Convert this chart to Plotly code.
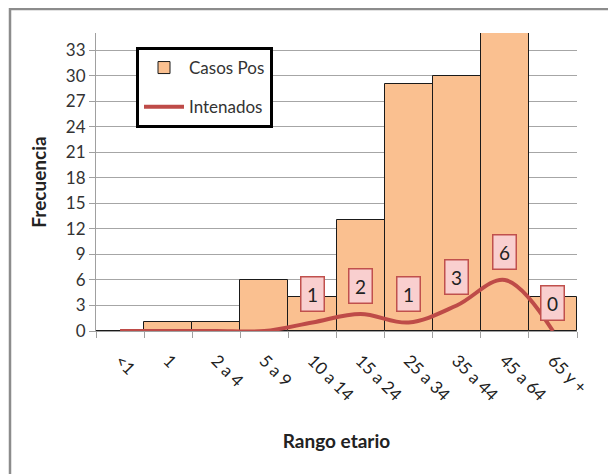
import plotly.graph_objects as go

categories = ["<1", "1", "2 a 4", "5 a 9", "10 a 14", "15 a 24", "25 a 34", "35 a 44", "45 a 64", "65 y +"]
casos_pos = [0, 1, 1, 6, 4, 13, 29, 30, 35, 4]
internados = [0, 0, 0, 0, 1, 2, 1, 3, 6, 0]
label_from = 4  # data labels shown from "10 a 14" onward
y_ticks = [0, 3, 6, 9, 12, 15, 18, 21, 24, 27, 30, 33]

FONT = "Lato"
OFF = 8  # page body offset
W, H = 616, 474
ML, MT = 96 - OFF, 33 - OFF
MR = W - (577 - OFF)
MB = H - (331 - OFF)
pw = W - ML - MR
ph = H - MT - MB

def px_x(x):
    return (x - OFF - ML) / pw

def px_y(y):
    return (H - MB - (y - OFF)) / ph

fig = go.Figure()
fig.add_trace(go.Bar(
    x=categories, y=casos_pos, name="Casos Pos",
    marker=dict(color="#FAC090", line=dict(color="#1a1a1a", width=1)),
    legendgroup="a",
))
fig.add_trace(go.Scatter(
    x=categories, y=internados, name="Intenados", mode="lines",
    line=dict(color="#BE4B48", width=4, shape="spline", smoothing=1.0),
    legendgroup="b",
))

annotations = []
for i in range(label_from, len(categories)):
    annotations.append(dict(
        x=categories[i], y=internados[i], xref="x", yref="y",
        text=str(internados[i]), showarrow=False, yshift=28,
        font=dict(family=FONT, size=19, color="#222"),
        bgcolor="#F9CFCF", bordercolor="#C0504D", borderwidth=1.5,
        borderpad=3, width=16, height=27,
    ))

# outer chart frame (extends past right/bottom edges)
shapes = [dict(
    type="rect", xref="paper", yref="paper",
    x0=px_x(10), x1=px_x(W + 30),
    y0=px_y(H + 30), y1=px_y(9),
    line=dict(color="#8C8C8C", width=2.5), fillcolor="rgba(0,0,0,0)",
    layer="below",
)]

fig.update_layout(
    width=W, height=H,
    margin=dict(l=ML, r=MR, t=MT, b=MB, pad=0),
    paper_bgcolor="white", plot_bgcolor="white",
    bargap=0,
    font=dict(family=FONT, size=16, color="#333"),
    showlegend=True,
    legend=dict(
        x=px_x(136), y=px_y(47), xanchor="left", yanchor="top",
        bordercolor="#000", borderwidth=3, bgcolor="white",
        font=dict(family=FONT, size=17, color="#333"),
        traceorder="grouped", tracegroupgap=14,
        itemwidth=40,
    ),
    xaxis=dict(
        type="category", range=[-0.5, len(categories) - 0.5],
        showline=True, linecolor="#A0A0A0", linewidth=1,
        ticks="outside", ticklen=6, tickcolor="#A0A0A0", tickson="boundaries",
        tickangle=45, ticklabelstandoff=12,
        tickfont=dict(family=FONT, size=17, color="#222"),
        showgrid=False, automargin=False,
        title=dict(text="<b>Rango etario</b>", standoff=30,
                   font=dict(family=FONT, size=19, color="#222")),
    ),
    yaxis=dict(
        range=[0, 35], tickvals=y_ticks,
        showline=True, linecolor="#A0A0A0", linewidth=1,
        ticks="outside", ticklen=6, tickcolor="#A0A0A0",
        showgrid=True, gridcolor="#A6A6A6", gridwidth=1,
        zeroline=False, automargin=False,
        tickfont=dict(family=FONT, size=17, color="#333"),
        title=dict(text="<b>Frecuencia</b>", standoff=14,
                   font=dict(family=FONT, size=19, color="#222")),
    ),
    annotations=annotations,
    shapes=shapes,
)

fig.write_html("out.html")
